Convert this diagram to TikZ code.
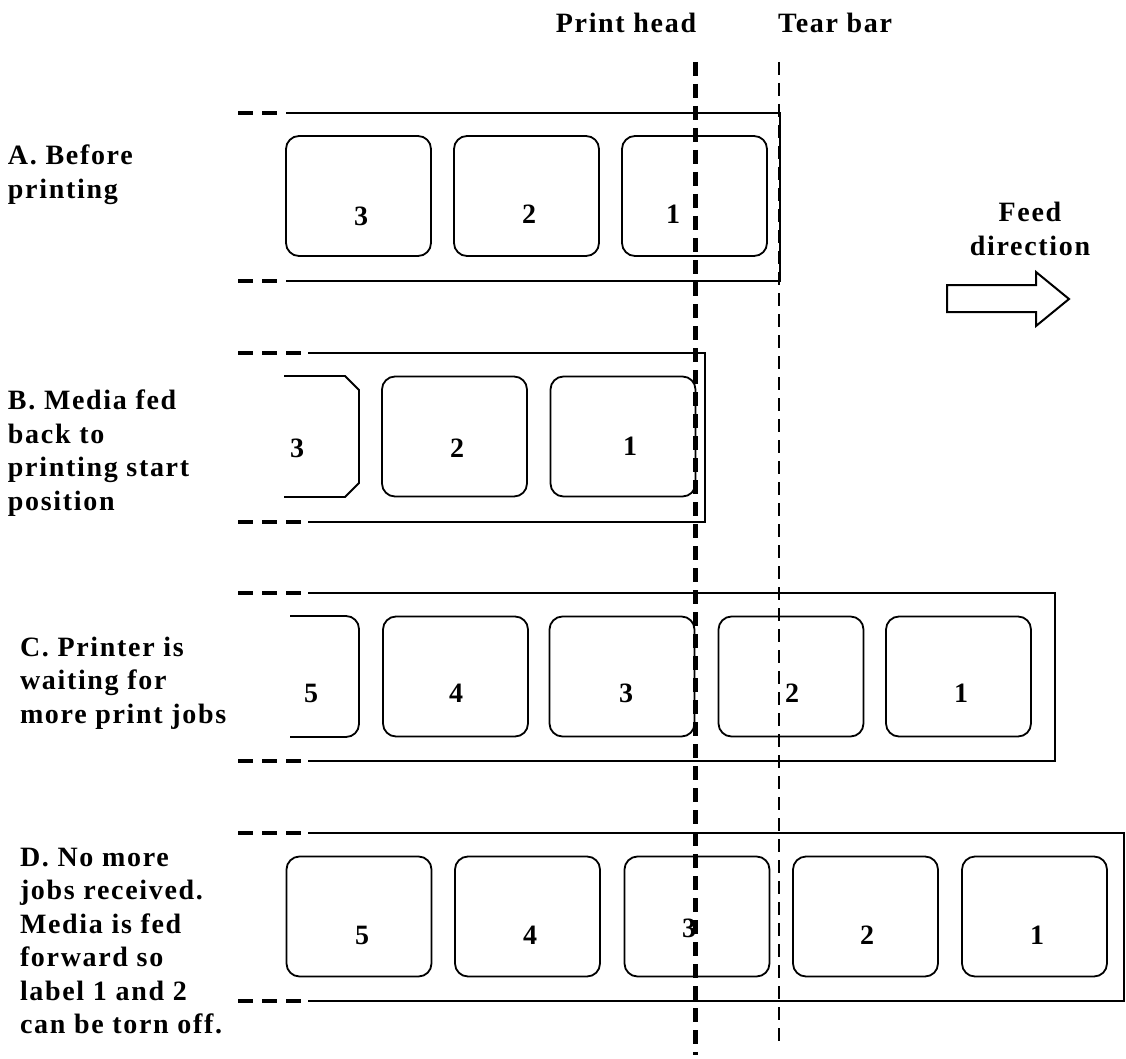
\documentclass[tikz,border=0pt]{standalone}
\usepackage{fontspec}
\setmainfont{Liberation Serif}[LetterSpace=6]
\begin{document}
\begin{tikzpicture}[x=1pt,y=-1pt,
  txt/.style={inner sep=0pt, outer sep=0pt, font=\fontsize{28}{33.5}\selectfont\bfseries},
  num/.style={inner sep=0pt, outer sep=0pt, font=\fontsize{28}{33.5}\selectfont\bfseries},
  lbl/.style={draw, line width=1.8pt, rounded corners=13pt, minimum width=145pt, minimum height=120pt, inner sep=0pt, outer sep=0pt},
  stripline/.style={line width=2pt},
  enddash/.style={line width=4.5pt, dash pattern=on 15pt off 9pt},
  headline/.style={line width=5pt, dash pattern=on 14pt off 8pt},
  tearline/.style={line width=2.5pt, dash pattern=on 13pt off 8pt}]
\useasboundingbox (0,0) rectangle (1126,1059);

% ---- top labels
\node[txt, anchor=base] (ph) at (626,33) {Print head};
\node[txt, anchor=base west] (tb) at (778,33) {Tear bar};

% ---- feed direction
\node[txt, align=center] (feed) at (1030,229) {Feed\\direction};
\draw[line width=2pt, line join=miter] (947,285) -- (1036,285) -- (1036,272) -- (1069,299) -- (1036,326) -- (1036,312) -- (947,312) -- cycle;

% ---- row labels
\node[txt, align=left, anchor=north west] (ta) at (8,145) {A. Before\\printing};
\node[txt, align=left, anchor=north west] (tbb) at (8,390) {B. Media fed\\back to\\printing start\\position};
\node[txt, align=left, anchor=north west] (tc) at (20,637) {C. Printer is\\waiting for\\more print jobs};
\node[txt, align=left, anchor=north west] (td) at (20,848) {D. No more\\jobs received.\\Media is fed\\forward so\\label 1 and 2\\can be torn off.};

% ---- strip A
\draw[enddash] (238,113) -- (280,113);
\draw[enddash] (238,281) -- (280,281);
\draw[stripline] (286,113) -- (780,113) -- (780,281) -- (286,281);
\node[lbl] (a3) at (358.5,196) {};
\node[lbl] (a2) at (526.5,196) {};
\node[lbl] (a1) at (694.5,196) {};
\node[num] (na3) at (361,216) {3};
\node[num] (na2) at (529,214) {2};
\node[num] (na1) at (673,214) {1};

% ---- strip B
\draw[enddash] (238,353) -- (303,353);
\draw[enddash] (238,522) -- (303,522);
\draw[stripline] (308,353) -- (705,353) -- (705,522) -- (308,522);
\draw[line width=1.8pt] (284,376) -- (345,376) -- (359,390) -- (359,483) -- (345,497) -- (284,497);
\node[lbl] (b2) at (454.5,436.5) {};
\node[lbl] (b1) at (623,436.5) {};
\node[num] (nb3) at (297,448) {3};
\node[num] (nb2) at (457,448) {2};
\node[num] (nb1) at (630,446) {1};

% ---- strip C
\draw[enddash] (238,593) -- (303,593);
\draw[enddash] (238,761) -- (303,761);
\draw[stripline] (308,593) -- (1055,593) -- (1055,761) -- (308,761);
\draw[line width=1.8pt, rounded corners=13pt] (290,616) -- (359,616) -- (359,737) -- (290,737);
\node[lbl] (c4) at (455.5,676.5) {};
\node[lbl] (c3) at (622,676.5) {};
\node[lbl] (c2) at (791,676.5) {};
\node[lbl] (c1) at (958.5,676.5) {};
\node[num] (nc5) at (311,693) {5};
\node[num] (nc4) at (456,693) {4};
\node[num] (nc3) at (626,693) {3};
\node[num] (nc2) at (792,693) {2};
\node[num] (nc1) at (961,693) {1};

% ---- strip D
\draw[enddash] (238,833) -- (303,833);
\draw[enddash] (238,1001) -- (303,1001);
\draw[stripline] (308,833) -- (1124,833) -- (1124,1001) -- (308,1001);
\node[lbl] (d5) at (359,916.5) {};
\node[lbl] (d4) at (527.5,916.5) {};
\node[lbl] (d3) at (697,916.5) {};
\node[lbl] (d2) at (865.5,916.5) {};
\node[lbl] (d1) at (1034.5,916.5) {};
\node[num] (nd5) at (362,935) {5};
\node[num] (nd4) at (530,935) {4};
\node[num] (nd3) at (689,928) {3};
\node[num] (nd2) at (867,935) {2};
\node[num] (nd1) at (1037,935) {1};

% ---- print head and tear bar
\coordinate (phtop) at (695,62);
\coordinate (phbot) at (695,1055);
\coordinate (tbtop) at (779,62);
\coordinate (tbbot) at (779,1045);
\draw[headline] (phtop) -- (phbot);
\draw[tearline] (tbtop) -- (tbbot);
\end{tikzpicture}
\end{document}
